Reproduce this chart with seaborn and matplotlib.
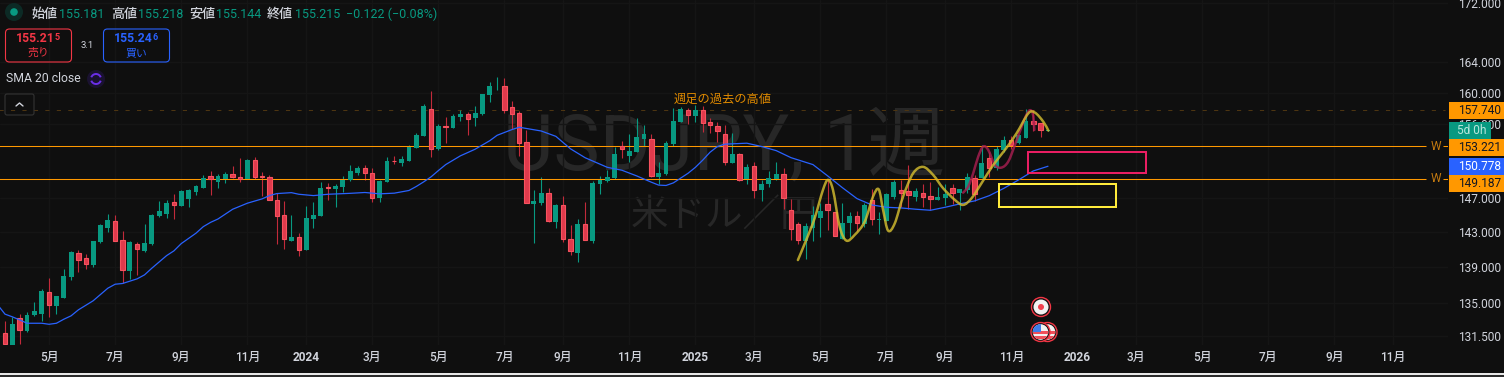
import numpy as np
import pandas as pd
import seaborn as sns
import matplotlib.pyplot as plt
from matplotlib.patches import Rectangle, FancyBboxPatch, Circle, PathPatch, Arc
from matplotlib.path import Path

# USD/JPY weekly candles
open_ = [131.78,130.54,133.38,132.02,133.75,133.85,136.21,134.73,135.59,137.91,
         140.55,139.99,139.25,141.85,143.46,144.23,142.04,138.58,141.58,140.83,
         141.62,144.86,145.09,146.47,146.04,146.86,147.68,148.16,149.57,148.89,
         149.25,149.82,149.45,149.21,151.51,149.57,149.45,146.70,144.93,141.97,
         142.39,140.93,144.50,144.86,148.24,148.04,148.28,149.13,149.97,150.53,
         149.93,146.98,148.89,151.43,151.19,151.43,153.03,154.50,157.87,152.91,
         155.73,155.51,156.90,157.24,156.78,157.28,159.71,160.83,160.83,158.12,
         157.37,153.72,146.26,146.38,147.54,144.17,146.11,142.16,140.61,143.90,
         141.97,148.65,149.01,149.37,153.27,152.05,152.54,154.13,154.09,149.49,
         149.85,153.51,156.27,157.74,157.03,157.79,156.26,155.76,154.72,151.17,
         152.24,149.25,150.78,147.92,148.65,149.25,149.81,145.52,143.87,141.97,
         143.46,144.62,146.23,145.29,142.20,144.03,144.81,143.91,146.70,144.34,
         144.26,147.09,147.88,147.76,147.09,147.52,147.17,146.74,146.97,148.12,
         147.56,147.92,149.41,149.37,151.74,150.58,152.78,154.01,153.60,154.26,
         156.39,156.13,155.181]
high = [133.09,133.56,133.82,134.04,135.16,136.58,137.80,135.81,138.80,140.82,
        140.93,140.49,141.97,143.92,145.09,144.97,143.11,141.97,141.85,143.92,
        145.09,146.63,146.74,147.45,147.92,148.04,148.53,149.74,150.22,149.86,
        150.10,150.82,151.79,151.67,151.92,150.10,149.74,147.52,146.63,144.97,
        142.88,146.04,146.51,148.89,148.77,148.65,149.61,150.94,150.82,150.94,
        150.57,149.13,151.93,152.05,152.05,153.40,154.88,158.55,160.23,156.02,
        156.90,157.28,157.79,157.54,158.29,159.84,161.39,162.04,161.91,158.93,
        157.66,155.26,147.94,149.49,148.18,146.26,147.22,143.82,144.52,146.50,
        149.01,149.61,150.33,153.15,153.88,154.75,156.78,155.89,154.75,151.31,
        153.88,158.03,158.16,158.03,158.42,158.30,156.77,156.26,155.88,154.89,
        152.41,151.06,151.31,149.13,150.21,151.31,150.58,146.85,144.15,144.03,
        146.03,146.39,149.13,145.33,146.39,145.33,145.44,146.39,148.04,145.33,
        147.56,149.13,149.13,150.94,148.16,148.65,148.89,148.28,148.65,148.65,
        148.04,149.93,149.69,153.40,152.53,153.27,154.52,154.52,154.64,157.92,
        157.79,156.13,155.218]
low = [130.54,130.54,130.65,131.95,133.67,133.09,133.53,133.85,135.59,137.58,
       138.47,138.80,139.03,141.74,143.00,142.00,137.24,137.69,138.13,140.71,
       141.51,144.74,144.62,144.50,146.04,145.92,147.33,148.16,147.33,148.16,
       148.77,149.37,148.89,149.21,149.25,147.21,146.74,141.62,141.04,141.97,
       140.25,140.93,143.46,144.86,146.74,145.92,147.68,149.01,149.73,149.13,
       146.50,146.50,148.89,151.07,150.82,151.43,153.03,154.50,151.93,152.78,
       153.64,155.51,156.40,154.63,155.77,157.16,158.80,160.36,157.41,155.39,
       152.05,146.42,141.74,146.15,144.17,143.47,141.86,140.38,139.59,142.08,
       141.74,147.46,148.89,149.25,151.81,151.31,152.54,153.27,149.49,148.65,
       149.73,153.27,156.27,156.02,156.27,155.01,154.89,153.77,150.98,151.17,
       149.01,148.65,146.97,146.62,148.28,149.13,145.67,142.08,141.62,139.90,
       141.97,142.42,143.23,142.54,142.20,142.42,143.11,143.57,143.80,142.77,
       144.26,146.85,145.90,145.67,146.62,145.90,145.56,146.74,146.15,146.27,
       145.56,147.56,146.62,149.37,149.45,150.33,152.53,152.90,153.52,154.26,
       155.14,154.39,155.144]
close = [130.65,132.77,132.17,133.75,134.18,136.35,134.76,135.81,138.02,140.71,
         139.84,139.29,141.97,143.80,144.38,142.00,138.62,141.85,141.09,141.74,
         144.97,145.45,146.39,146.19,147.80,147.92,148.41,149.37,149.25,149.61,
         149.86,149.49,149.21,151.55,149.49,149.53,146.78,144.89,142.15,142.43,
         140.97,144.62,144.97,148.16,148.20,148.41,149.13,150.21,150.57,150.01,
         147.02,149.01,151.43,151.39,151.69,153.15,154.63,158.29,152.95,155.77,
         155.68,157.03,157.28,156.65,157.41,159.84,160.88,160.92,157.83,157.33,
         153.68,146.42,146.62,147.58,144.32,146.15,142.23,140.76,143.93,142.12,
         148.77,149.13,149.49,152.29,152.95,152.66,154.38,154.75,149.61,149.97,
         153.64,156.40,157.91,157.19,157.79,156.17,155.88,155.18,151.35,152.28,
         149.13,150.70,147.96,148.65,149.37,149.85,146.93,143.38,142.12,143.68,
         144.97,145.44,145.60,142.58,144.03,144.85,144.07,146.15,144.54,144.50,
         147.44,148.89,147.60,147.36,147.80,147.13,146.89,147.09,147.44,147.60,
         148.04,149.45,147.44,151.17,150.58,152.90,154.01,153.40,154.64,156.39,
         156.01,155.26,155.215]

# SMA 20
sma_week = [-1,0,1,2,3,5,6,7,8,9,10,12,14,15,16,18,19,20,22,23,24,26,27,28,29,31,33,35,36,37,39,40,42,44,47,
            49,51,53,55,56,57,58,59,60,62,64,66,67,69,70,73,75,77,79,82,84,86,88,89,90,91,93,94,
            95,96,97,98,100,101,103,105,107,110,112,114,116,118,120,122,124,126,128,130,132,134,136,138,140,142]
sma_val = [134.83,133.82,133.53,133.20,132.84,132.84,132.73,132.84,133.27,133.64,134.29,135.27,136.65,137.09,137.17,
           137.69,138.13,138.88,140.29,140.83,141.66,142.85,143.61,144.11,144.50,145.64,146.35,146.86,147.25,147.49,
           147.60,147.41,147.25,147.41,147.52,147.62,147.46,147.54,147.86,148.34,148.89,149.49,150.25,150.98,152.05,
           152.86,153.92,154.59,155.30,155.60,155.13,154.46,152.91,151.81,150.65,150.29,149.61,148.85,148.50,148.46,
           148.77,149.93,150.65,151.53,152.50,153.20,153.49,153.57,153.61,153.20,152.69,151.83,150.98,149.61,148.20,
           146.89,146.15,145.87,145.79,145.64,145.52,145.87,146.27,146.62,147.24,148.12,149.13,150.21,150.778]

# hand drawn waves on the chart
yellow_week = [107.95,109.09,110.23,111.36,112.05,112.73,113.64,114.55,115.68,117.05,118.18,118.95,119.55,120.23,121.14,
               122.27,123.64,125.0,126.36,127.73,129.32,130.45,131.59,132.95,134.55,136.14,137.73,139.32,140.23,141.36,142.05]
yellow_val = [139.79,142.08,144.58,147.92,149.13,147.92,143.60,142.00,142.65,144.19,147.13,148.00,145.56,143.15,143.99,
              147.13,149.93,150.70,149.73,148.12,146.74,146.15,146.93,148.73,150.94,152.78,154.85,157.35,157.44,156.30,155.18]
crimson_week = [130.45,131.14,131.82,132.5,133.18,133.86,134.77,135.68,136.59,137.5,138.41,139.32,139.91,140.14]
crimson_val = [147.60,148.32,149.93,151.95,153.20,152.78,150.94,150.62,151.35,153.40,155.66,157.60,157.39,155.26]

# levels and zones
past_high = 157.740
level_upper = 153.221
level_lower = 149.187
sma_last = 150.778
zone_crimson = (139.25, 155.3, 149.97, 152.53)
zone_yellow = (135.3, 151.25, 145.87, 148.65)

# axes labels
price_ticks = [172, 164, 160, 156, 147, 143, 139, 135, 131.5]
week_ticks = [6,15,24,33,41,50,59,68,76,85,94,102,111,120,128,137,146,154,163,172,181,189]
week_labels = ["5月","7月","9月","11月","2024","3月","5月","7月","9月","11月","2025",
               "3月","5月","7月","9月","11月","2026","3月","5月","7月","9月","11月"]

BG = "#0f0f0f"
TXT = "#d1d4dc"
GREEN = "#089981"
RED = "#e03a4c"
ORANGE = "#ff9800"
BLUE = "#2962ff"

sns.set_theme(style="dark", rc={"axes.facecolor": BG, "figure.facecolor": BG})
plt.rcParams['font.family'] = ['Roboto', 'Noto Sans CJK JP', 'DejaVu Sans']

fig = plt.figure(figsize=(15.04, 3.77), dpi=100)
ax = fig.add_axes([0, 32 / 377, 1448 / 1504, 345 / 377])

df = pd.DataFrame({"open": open_, "high": high, "low": low, "close": close})
df["week"] = df.index
up = df[df.close >= df.open]
down = df[df.close < df.open]

# watermark
ax.text(0.5, 0.572, "USDJPY, 1週", transform=ax.transAxes, ha="center", va="center",
        fontsize=56, color="#272727", zorder=0.5)
ax.text(0.5, 0.375, "米ドル／円", transform=ax.transAxes, ha="center", va="center",
        fontsize=27, color="#272727", zorder=0.5)

# candles
ax.vlines(up.week, up.low, up.high, color=GREEN, lw=0.8, zorder=2)
ax.vlines(down.week, down.low, down.high, color="#c22a3a", lw=0.8, zorder=2)
ax.bar(up.week, up.close - up.open, bottom=up.open, width=0.66, color=GREEN, lw=0, zorder=3)
ax.bar(down.week, down.open - down.close, bottom=down.close, width=0.6, color=RED,
       edgecolor="#f7525f", lw=0.8, zorder=3)

sns.lineplot(x=sma_week, y=sma_val, color=BLUE, lw=0.9, ax=ax, estimator=None, sort=False, zorder=4)

# levels
ax.hlines([level_upper, level_lower], -1, 193.5, color=ORANGE, lw=0.75, zorder=2.5, snap=True)
ax.hlines([level_upper, level_lower], 195.8, 196.5, color=ORANGE, lw=0.75, zorder=2.5, snap=True)
ax.hlines(past_high, -1, 196, color="#4d3511", lw=0.75, linestyles=(0, (4, 7)), zorder=1, snap=True)


# smooth pen strokes through the read points
def stroke(weeks, vals, color, zorder):
    pts = np.column_stack([weeks, vals])
    verts = [pts[0]]
    codes = [Path.MOVETO]
    for i in range(len(pts) - 1):
        p0 = pts[max(i - 1, 0)]
        p3 = pts[min(i + 2, len(pts) - 1)]
        verts += [pts[i] + (pts[i + 1] - p0) / 6, pts[i + 1] - (p3 - pts[i]) / 6, pts[i + 1]]
        codes += [Path.CURVE4] * 3
    ax.add_patch(PathPatch(Path(verts, codes), fill=False, ec=color, lw=1.8, alpha=0.82,
                           capstyle="round", joinstyle="round", zorder=zorder))


stroke(crimson_week, crimson_val, "#a81e50", 5)
stroke(yellow_week, yellow_val, "#d4bd2f", 6)

for (x0, x1, y0, y1), col in [(zone_crimson, "#e91e63"), (zone_yellow, "#ffeb3b")]:
    ax.add_patch(Rectangle((x0, y0), x1 - x0, y1 - y0, fill=False, ec=col, lw=1.45, zorder=6))

ax.text(97.7, 159.1, "週足の過去の高値", color="#e08a00", fontsize=8.8, ha="center", va="center", zorder=7)

ax.set_yscale("log")
ax.set_xlim(-0.68, 196.46)
ax.set_ylim(130.53, 172.42)
ax.yaxis.tick_right()
ax.set_yticks(price_ticks)
ax.set_yticklabels([f"{p:.3f}" for p in price_ticks])
ax.minorticks_off()
ax.set_xticks(week_ticks)
ax.set_xticklabels(week_labels)
ax.tick_params(axis="y", length=0, pad=7, labelsize=8.6, labelcolor=TXT)
ax.tick_params(axis="x", length=0, pad=4, labelsize=8.6, labelcolor=TXT)
for lab in ax.get_xticklabels():
    if lab.get_text().isdigit():
        lab.set_fontweight("bold")
    else:
        lab.set_fontweight("medium")
ax.set_xlabel("")
ax.set_ylabel("")
ax.grid(True, color="#151515", lw=1, zorder=0)
ax.set_axisbelow(True)
for s in ax.spines.values():
    s.set_visible(False)

# overlay in pixels for the platform furniture
ov = fig.add_axes([0, 0, 1, 1], zorder=10)
ov.set_xlim(0, 1504)
ov.set_ylim(377, 0)
ov.axis("off")
ov.patch.set_alpha(0)


def label(x, y, s, color=TXT, size=8.6, ha="left", weight="normal"):
    ov.text(x, y, s, color=color, fontsize=size, ha=ha, va="center", fontweight=weight)


# header line
ov.add_patch(Circle((14, 12), 9, color="#0c2a25", lw=0))
ov.add_patch(Circle((14, 12), 3.8, color=GREEN, lw=0))
for x_lab, name, x_val, val in [(31, "始値", 59, "155.181"), (111, "高値", 138, "155.218"),
                                (189, "安値", 216, "155.144"), (267, "終値", 295, "155.215")]:
    label(x_lab, 14, name, size=9.4, weight="medium")
    label(x_val, 14, val, color=GREEN, size=9)
label(346, 14, "−0.122 (−0.08%)", color=GREEN, size=9)

# sell / buy buttons
for x0, w, col, price, small, name in [(5.5, 66, "#f23645", "155.21", "5", "売り"),
                                       (103.5, 66, BLUE, "155.24", "6", "買い")]:
    ov.add_patch(FancyBboxPatch((x0 + 3, 32), w - 6, 27, boxstyle="round,pad=3,rounding_size=4",
                                fc="none", ec=col, lw=0.8))
    ov.text(x0 + 30, 39, price, color=col, fontsize=8.8, fontweight="bold", ha="center", va="center")
    ov.text(x0 + 52, 37.5, small, color=col, fontsize=6.5, fontweight="bold", ha="center", va="center")
    ov.text(x0 + 33, 53, name, color=col, fontsize=7.8, ha="center", va="center")
label(87, 45.5, "3.1", size=6.8, ha="center")

# indicator line
label(6, 79, "SMA 20 close", size=8.8)
ov.add_patch(Circle((96, 79), 9, color="#1a1230", lw=0))
ov.add_patch(Arc((96, 79), 10, 10, theta1=20, theta2=160, ec="#6a2ee8", lw=1.4))
ov.add_patch(Arc((96, 79), 10, 10, theta1=200, theta2=340, ec="#6a2ee8", lw=1.4))
ov.add_patch(FancyBboxPatch((7, 96), 25, 17, boxstyle="round,pad=2,rounding_size=2", fc="none", ec="#333333", lw=0.8))
ov.plot([16, 19.5, 23], [106, 103, 106], color=TXT, lw=1)

# price boxes on the scale
for y0, w, col, txtcol, s in [(102, 55, ORANGE, "#131722", "157.740"), (122, 42, GREEN, "#b9e6dc", "5d 0h"),
                              (139, 55, ORANGE, "#131722", "153.221"), (158, 55, BLUE, "#ffffff", "150.778"),
                              (175, 55, ORANGE, "#131722", "149.187")]:
    ov.add_patch(Rectangle((1449, y0), w, 17, color=col, lw=0))
    label(1458 if w == 55 else 1457, y0 + 8.7, s, color=txtcol)
label(1435.5, 146, "W", color="#c47a10", ha="center")
label(1435.5, 179, "W", color="#c47a10", ha="center")

# event icons
for cx, cy in [(1047.5, 332), (1040.5, 332)]:
    ov.add_patch(Circle((cx, cy), 9.5, fc=BG, ec="#f23645", lw=1))
    disc = Circle((cx, cy), 7.8, fc="#f2f2f2", lw=0)
    ov.add_patch(disc)
    for yy in (331, 336):
        st = ov.add_patch(Rectangle((cx - 8, yy), 16, 2.5, color="#f0505a", lw=0))
        st.set_clip_path(disc)
    if cx < 1045:
        can = ov.add_patch(Rectangle((cx - 8, cy - 8), 8, 7.5, color="#3f7de8", lw=0))
        can.set_clip_path(disc)
ov.add_patch(Circle((1041, 307), 9.5, fc=BG, ec="#f23645", lw=1))
ov.add_patch(Circle((1041, 307), 7.5, fc="#f2f2f2", lw=0))
ov.add_patch(Circle((1041, 307), 3, fc="#f0404f", lw=0))

# window edge at the bottom
ov.add_patch(Rectangle((0, 373), 1504, 2, color="#e6e6e6", lw=0))
ov.add_patch(Rectangle((0, 375), 1504, 2, color="#2b2b2b", lw=0))

fig.savefig("out.png", dpi=100, facecolor=BG)
